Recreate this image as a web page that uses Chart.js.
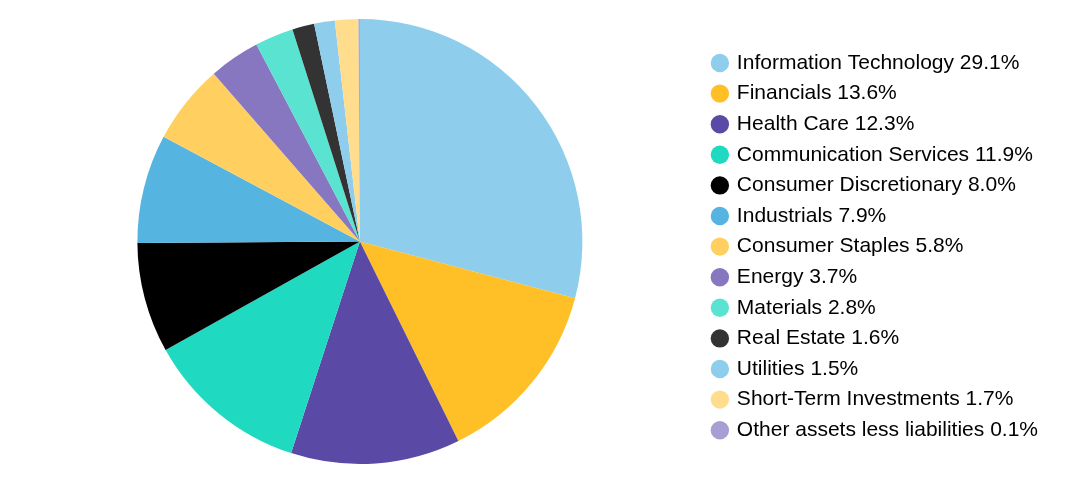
<!DOCTYPE html>
<html>
<head>
    <style>
        html, body { margin: 0; padding: 0; background: #ffffff; }
        .wrap { width: 1080px; height: 492px; position: relative; }
    </style>
    <script src="https://cdn.jsdelivr.net/npm/chart.js"></script>
</head>
<body>
    <div class="wrap">
        <canvas id="sectorPie" width="1080" height="492"></canvas>
    </div>
    <script>
        // sector weights, in percent
        var sectors = ['Information Technology', 'Financials', 'Health Care', 'Communication Services',
            'Consumer Discretionary', 'Industrials', 'Consumer Staples', 'Energy', 'Materials',
            'Real Estate', 'Utilities', 'Short-Term Investments', 'Other assets less liabilities'];
        var weights = [29.1, 13.6, 12.3, 11.9, 8.0, 7.9, 5.8, 3.7, 2.8, 1.6, 1.5, 1.7, 0.1];
        var sliceColors = ['#8ecdec', '#ffbf27', '#5a4aa6', '#1fd9c0', '#000000', '#55b4e0', '#ffd060',
            '#8677c0', '#5ae3d0', '#333333', '#8ecdec', '#ffdd8c', '#a99ed4'];

        var labels = sectors.map(function (s, i) { return s + ' ' + weights[i].toFixed(1) + '%'; });

        var ctx = document.getElementById('sectorPie').getContext('2d');
        new Chart(ctx, {
            type: 'pie',
            data: {
                labels: labels,
                datasets: [{
                    data: weights,
                    backgroundColor: sliceColors,
                    borderWidth: 0
                }]
            },
            options: {
                responsive: false,
                animation: false,
                layout: { padding: { left: 16, top: 19, bottom: 28, right: 32 } },
                plugins: {
                    tooltip: { enabled: false },
                    legend: {
                        position: 'right',
                        align: 'center',
                        // empty title only to nudge the items down a few pixels
                        title: { display: true, text: ' ', font: { size: 1 }, padding: 4.5 },
                        labels: {
                            usePointStyle: true,
                            pointStyle: 'circle',
                            boxWidth: 13,
                            boxHeight: 13,
                            padding: 9.6,
                            color: '#000000',
                            font: { family: 'Liberation Sans, Arial, sans-serif', size: 21 }
                        }
                    }
                }
            }
        });
    </script>
</body>
</html>
